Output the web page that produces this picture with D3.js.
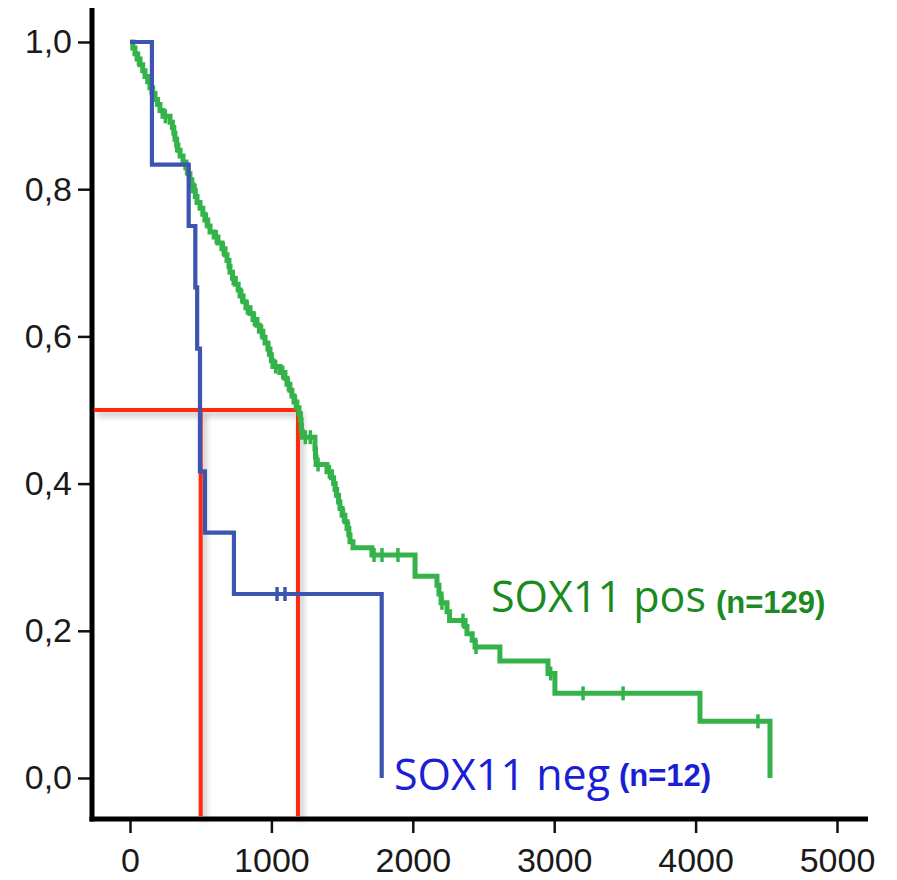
<!DOCTYPE html>
<html>
<head>
<meta charset="utf-8">
<script src="https://cdn.jsdelivr.net/npm/d3@7"></script>
<style>
  body { margin: 0; background: #fff; }
  svg { display: block; }
</style>
</head>
<body>
<svg id="chart" width="897" height="880"></svg>
<script>
// Kaplan–Meier survival, SOX11 positive vs negative

const xTicks = [0, 1000, 2000, 3000, 4000, 5000];
const yTicks = [0, 0.2, 0.4, 0.6, 0.8, 1.0];

// SOX11 pos: step times (days) and survival after each step
const posTimes = [0, 20, 35, 50, 71, 90, 106, 125, 141, 160, 177, 195, 212, 233, 283, 300, 310, 318, 330, 339,
  354, 375, 395, 410, 424, 437, 446, 462, 474, 495, 515, 530, 550, 566, 595, 622, 650, 672, 686, 700,
  707, 725, 745, 765, 778, 800, 820, 849, 870, 898, 915, 940, 955, 975, 990, 1000, 1011, 1060, 1096, 1110,
  1131, 1145, 1160, 1180, 1195, 1205, 1210, 1213, 1218, 1308, 1312, 1316, 1393, 1425, 1440, 1450, 1462, 1475, 1485, 1500,
  1520, 1535, 1548, 1556, 1577, 1711, 2016, 2171, 2185, 2200, 2242, 2260, 2370, 2383, 2420, 2440, 2616, 2956, 3005, 4031, 4526];
const posSurv = [1.0, 0.992, 0.984, 0.977, 0.969, 0.961, 0.953, 0.946, 0.938, 0.930, 0.922, 0.915, 0.907, 0.899, 0.891, 0.884, 0.876, 0.868, 0.860, 0.853,
  0.845, 0.837, 0.829, 0.821, 0.813, 0.806, 0.798, 0.790, 0.782, 0.774, 0.766, 0.758, 0.750, 0.742, 0.735, 0.727, 0.719, 0.711, 0.703, 0.695,
  0.687, 0.679, 0.671, 0.663, 0.655, 0.647, 0.639, 0.631, 0.623, 0.615, 0.607, 0.599, 0.591, 0.583, 0.575, 0.567, 0.559, 0.551, 0.543, 0.535,
  0.527, 0.519, 0.511, 0.503, 0.495, 0.487, 0.479, 0.471, 0.463, 0.447, 0.436, 0.426, 0.416, 0.408, 0.400, 0.392, 0.384, 0.375, 0.366, 0.357,
  0.348, 0.339, 0.330, 0.321, 0.313, 0.303, 0.274, 0.262, 0.250, 0.238, 0.226, 0.214, 0.206, 0.196, 0.187, 0.178, 0.159, 0.142, 0.115, 0.077, 0.0];
const posCensor = [60, 150, 250, 330, 400, 460, 540, 610, 660, 730, 790, 830, 880, 930, 980, 1030, 1080, 1120, 1170,
  1240, 1275, 1330, 1410, 1455, 1510, 1545, 1726, 1782, 1895, 2206, 2355, 2447, 2975, 3204, 3487, 4441];

// SOX11 neg
const negTimes = [0, 155, 415, 462, 475, 495, 530, 735, 1780];
const negSurv = [1.0, 0.8333, 0.75, 0.6667, 0.5833, 0.4167, 0.3333, 0.25, 0.0];
const negCensor = [1040, 1096];

// median survival markers
const medianLevel = 0.5;
const medianTimes = [500, 1188];

const groupNames = ["SOX11 pos", "SOX11 neg"];
const groupCounts = ["(n=129)", "(n=12)"];

const svg = d3.select("#chart");

const x = d3.scaleLinear().domain([0, 5000]).range([130, 837]);
const y = d3.scaleLinear().domain([0, 1]).range([778, 42]);

const axisX = 92, axisY = 819;

const defs = svg.append("defs");
const shadow = defs.append("filter").attr("id", "shade")
  .attr("x", "-50%").attr("y", "-50%").attr("width", "200%").attr("height", "200%");
shadow.append("feDropShadow").attr("dx", 3).attr("dy", 4).attr("stdDeviation", 3)
  .attr("flood-color", "#000").attr("flood-opacity", 0.3);

// axes
const commaFmt = d3.formatLocale({decimal: ",", thousands: ".", grouping: [3], currency: ["", ""]}).format(".1f");

const gy = svg.append("g").attr("transform", `translate(${axisX},0)`)
  .call(d3.axisLeft(y).tickValues(yTicks).tickSize(14).tickPadding(6).tickFormat(commaFmt));
const gx = svg.append("g").attr("transform", `translate(0,${axisY})`)
  .call(d3.axisBottom(x).tickValues(xTicks).tickSize(14).tickPadding(15).tickFormat(d3.format("d")));

[gx, gy].forEach(g => {
  g.select(".domain").remove();
  g.selectAll(".tick line").attr("stroke", "#111").attr("stroke-width", 2.5);
  g.selectAll(".tick text").attr("fill", "#1a1a1a")
    .style("font-family", "'Liberation Sans', Arial, sans-serif").style("font-size", "34px");
});

svg.append("line").attr("x1", axisX).attr("x2", axisX).attr("y1", 8).attr("y2", axisY + 2.5)
  .attr("stroke", "#000").attr("stroke-width", 5);
svg.append("line").attr("x1", axisX - 2.5).attr("x2", 868).attr("y1", axisY).attr("y2", axisY)
  .attr("stroke", "#000").attr("stroke-width", 5);

// median guide lines
const red = "#ff2a0a";
const redG = svg.append("g").attr("filter", "url(#shade)");
redG.append("line").attr("x1", axisX + 2).attr("x2", x(d3.max(medianTimes)))
  .attr("y1", y(medianLevel)).attr("y2", y(medianLevel))
  .attr("stroke", red).attr("stroke-width", 4);
medianTimes.forEach(t => {
  redG.append("line").attr("x1", x(t)).attr("x2", x(t))
    .attr("y1", y(medianLevel) - 2).attr("y2", axisY - 2.5)
    .attr("stroke", red).attr("stroke-width", 4);
});

// survival curves
const stepLine = d3.line().x(d => x(d[0])).y(d => y(d[1])).curve(d3.curveStepAfter);
const survAt = (times, surv, t) => surv[d3.bisectRight(times, t) - 1];

function drawCurve(times, surv, censor, color, width) {
  const pts = times.map((t, i) => [t, surv[i]]);
  svg.append("path").datum(pts).attr("d", stepLine)
    .attr("fill", "none").attr("stroke", color).attr("stroke-width", width)
    .attr("stroke-linejoin", "miter");
  svg.append("g").selectAll("line").data(censor).join("line")
    .attr("x1", d => x(d)).attr("x2", d => x(d))
    .attr("y1", d => y(survAt(times, surv, d)) - 7)
    .attr("y2", d => y(survAt(times, surv, d)) + 7)
    .attr("stroke", color).attr("stroke-width", 3.5);
}

drawCurve(posTimes, posSurv, posCensor, "#34b34a", 5);
drawCurve(negTimes, negSurv, negCensor, "#3d55b0", 4.2);

// group labels
const labelFont = "'Open Sans', 'Noto Sans', sans-serif";
const countFont = "'Liberation Sans', Arial, sans-serif";

svg.append("text").attr("x", 491).attr("y", 612).text(groupNames[0])
  .attr("fill", "#1b8a1f").style("font-family", labelFont).style("font-size", "43px");
svg.append("text").attr("x", 716).attr("y", 613).text(groupCounts[0])
  .attr("fill", "#1b8a1f").style("font-family", countFont).style("font-size", "31px").style("font-weight", "bold");

svg.append("text").attr("x", 394).attr("y", 790).text(groupNames[1])
  .attr("fill", "#1a1fd6").style("font-family", labelFont).style("font-size", "43px");
svg.append("text").attr("x", 619).attr("y", 786).text(groupCounts[1])
  .attr("fill", "#1a1fd6").style("font-family", countFont).style("font-size", "31px").style("font-weight", "bold");
</script>
</body>
</html>
